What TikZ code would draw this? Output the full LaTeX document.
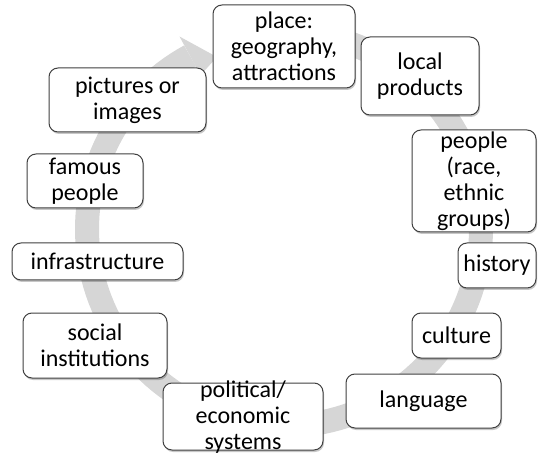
\documentclass[tikz,border=0pt]{standalone}
\usepackage{fontspec}
\setmainfont{Carlito}
\usetikzlibrary{shadows}
\definecolor{ringgray}{HTML}{D6D6D6}
\definecolor{edgegray}{HTML}{404040}
\tikzset{
  cbox/.style={draw=edgegray, line width=1pt, fill=white, rounded corners=9pt,
    inner sep=0pt, align=center, font=\fontsize{24}{26}\selectfont,
    drop shadow={shadow xshift=1pt, shadow yshift=-2pt, opacity=0.22, fill=black}},
  ctext/.style={inner sep=0pt, align=center, font=\fontsize{24}{26}\selectfont},
}
\begin{document}
\begin{tikzpicture}[x=1pt, y=-1pt]
\useasboundingbox (0,0) rectangle (538,454);
% circular arrow
\draw[line width=24pt, ringgray] plot[domain=-100:241.5, samples=150, variable=\t]
  ({284+197*cos(\t)},{229+197*sin(\t)});
\fill[ringgray] (179.5,36.5) -- (217,57) -- (200.5,75.2) -- cycle;
% boxes
\node[cbox, minimum width=142pt, minimum height=83pt] (place) at (284,46.5) {place:\\geography,\\attractions};
\node[cbox, minimum width=118pt, minimum height=78pt] (local) at (420,76) {local\\products};
\node[cbox, minimum width=124pt, minimum height=102pt] (people) at (474,181) {people\\(race,\\ethnic\\groups)};
\node[cbox, minimum width=78pt, minimum height=45pt] (history) at (497,265.5) {history};
\node[cbox, minimum width=89pt, minimum height=45pt] (culture) at (456.5,335.5) {culture};
\node[cbox, minimum width=155pt, minimum height=54pt] (language) at (423.5,401) {language};
\node[cbox, minimum width=160pt, minimum height=67pt] (political) at (243,416.5) {};
\node[ctext] (politicaltext) at (243,417) {political/\\economic\\systems};
\node[cbox, minimum width=144pt, minimum height=65pt] (social) at (95,345.5) {social\\institutions};
\node[cbox, minimum width=171pt, minimum height=37pt] (infra) at (97.5,261.5) {infrastructure};
\node[cbox, minimum width=116pt, minimum height=54pt] (famous) at (85,181) {famous\\people};
\node[cbox, minimum width=157pt, minimum height=64pt] (pictures) at (127.5,100) {pictures or\\images};
\end{tikzpicture}
\end{document}
